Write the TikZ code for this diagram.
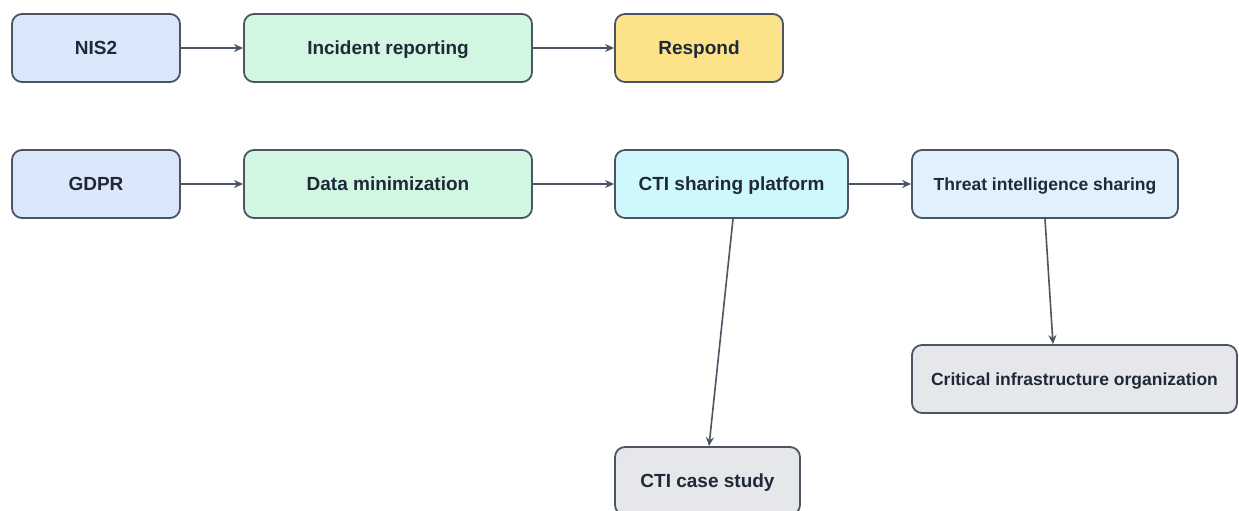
\documentclass[tikz,border=0pt]{standalone}
\usepackage{fontspec}
\setmainfont{Liberation Sans}
\usetikzlibrary{arrows.meta,calc}
\definecolor{edgegray}{HTML}{4B5563}
\definecolor{txtgray}{HTML}{1F2937}
\definecolor{fillblue}{HTML}{DBE8FB}
\definecolor{fillgreen}{HTML}{D1F7E3}
\definecolor{fillyellow}{HTML}{FCE38A}
\definecolor{fillcyan}{HTML}{CFF8FC}
\definecolor{fillsky}{HTML}{E1F0FD}
\definecolor{fillgray}{HTML}{E5E7EB}
\tikzset{
  box/.style={draw=edgegray, line width=1.8pt, rounded corners=10pt,
    minimum height=68pt, inner sep=0pt, text=txtgray,
    text height=13.7pt, text depth=0pt,
    font=\fontsize{19}{22}\selectfont\bfseries},
  smallbox/.style={box, text height=12.6pt,
    font=\fontsize{17.5}{20}\selectfont\bfseries},
  link/.style={draw=edgegray, line width=1.6pt, -{Stealth[length=9pt,width=8pt]}}
}
\begin{document}
\begin{tikzpicture}[x=1pt,y=-1pt]
\fill[white] (0,0) rectangle (1239,511);
\useasboundingbox (0,0) rectangle (1239,511);
\clip (0,0) rectangle (1239,511);
% top row
\node[box, fill=fillblue, minimum width=168pt] (nis) at (96,48) {NIS2};
\node[box, fill=fillgreen, minimum width=288pt] (inc) at (388,48) {Incident reporting};
\node[box, fill=fillyellow, minimum width=168pt] (resp) at (699,48) {Respond};
% second row
\node[box, fill=fillblue, minimum width=168pt] (gdpr) at (96,184) {GDPR};
\node[box, fill=fillgreen, minimum width=288pt] (dmin) at (388,184) {Data minimization};
\node[box, fill=fillcyan, minimum width=233pt] (plat) at (731.5,184) {CTI sharing platform};
\node[smallbox, fill=fillsky, minimum width=266pt] (tis) at (1045,184) {Threat intelligence sharing};
% lower nodes
\node[smallbox, fill=fillgray, minimum width=325pt] (cio) at (1074.5,379) {Critical infrastructure organization};
\node[box, fill=fillgray, minimum width=185pt] (case) at (707.5,481) {CTI case study};
% connectors
\draw[link] (nis) -- (inc);
\draw[link] (inc) -- (resp);
\draw[link] (gdpr) -- (dmin);
\draw[link] (dmin) -- (plat);
\draw[link] (plat) -- (tis);
\draw[link] ($(plat.south)+(1.5,0)$) -- ($(case.north)+(1.5,0)$);
\draw[link] (tis.south) -- ($(cio.north)+(-21.5,0)$);
\end{tikzpicture}
\end{document}
